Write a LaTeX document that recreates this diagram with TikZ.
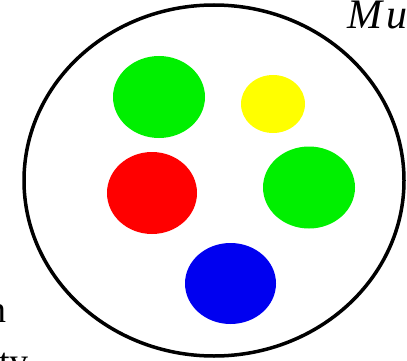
\documentclass[tikz,border=0pt]{standalone}
\usepackage{fontspec}
\setmainfont{Liberation Serif}
\usepackage{tikz}
\usetikzlibrary{shapes.geometric}
\definecolor{setgreen}{HTML}{00F000}
\definecolor{setyellow}{HTML}{FFFF00}
\definecolor{setred}{HTML}{FF0000}
\definecolor{setblue}{HTML}{0000F0}

\begin{document}
\begin{tikzpicture}[x=1pt,y=-1pt,
 universe/.style={draw,ellipse,line width=3.5pt,inner sep=0pt,
                  minimum width=380pt,minimum height=351pt},
 blob/.style={ellipse,inner sep=0pt,draw=none},
 cut/.style={inner sep=0pt,font=\fontsize{38}{42}\selectfont}]
 \clip (0,0) rectangle (407,361);
 \useasboundingbox (0,0) rectangle (407,361);
 % the set
 \node[universe] (set) at (214,180.5) {};
 % its elements
 \node[blob,fill=setgreen,minimum width=92pt,minimum height=82pt] (g1) at (159,97) {};
 \node[blob,fill=setyellow,minimum width=64pt,minimum height=58pt] (y1) at (273,104) {};
 \node[blob,fill=setred,minimum width=90pt,minimum height=82pt] (r1) at (152,193) {};
 \node[blob,fill=setgreen,minimum width=92pt,minimum height=82pt] (g2) at (309,187.5) {};
 \node[blob,fill=setblue,minimum width=91pt,minimum height=81pt] (b1) at (230.5,283.5) {};
 % cut-off labels
 \node[cut,anchor=base west,font=\fontsize{42}{46}\selectfont\itshape] (mu) at (347,29) {M\kern4pt u};
 \node[cut,anchor=base east] (n) at (7,322) {n};
 \node[cut,anchor=base west] (ty) at (-1,374) {ty};
\end{tikzpicture}
\end{document}
